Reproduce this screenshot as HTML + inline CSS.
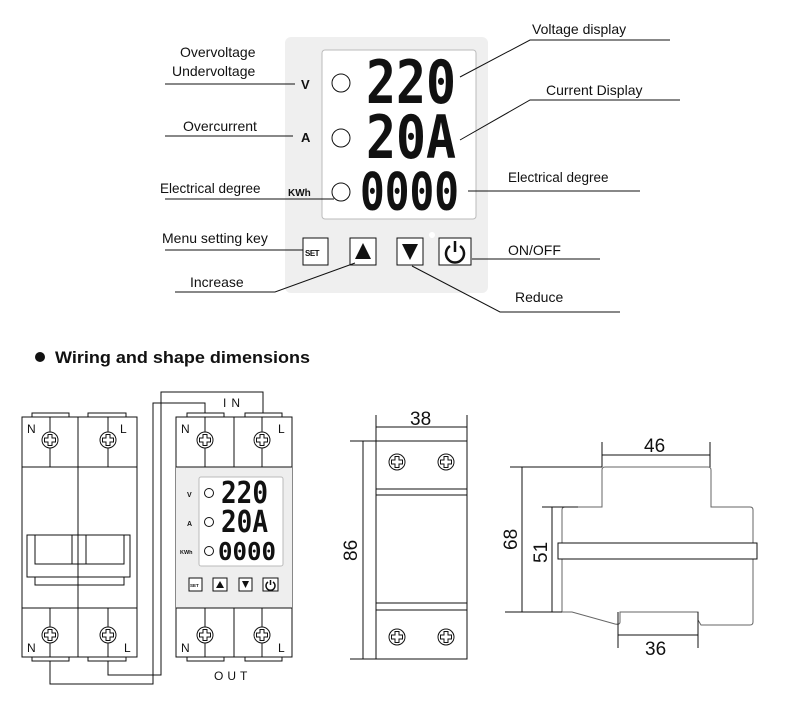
<!DOCTYPE html>
<html><head><meta charset="utf-8"><style>
html,body{margin:0;padding:0;background:#fff}
svg{display:block}
text{font-family:"Liberation Sans",sans-serif;fill:#111}
.seg{font-family:"DejaVu Sans Mono","Liberation Mono",monospace;font-weight:bold}
</style></head><body>
<svg width="785" height="707" viewBox="0 0 785 707" xmlns="http://www.w3.org/2000/svg">
<defs>
<g id="sc"><circle r="8"/><path d="M-2,-5.5 H2 V-2 H5.5 V2 H2 V5.5 H-2 V2 H-5.5 V-2 H-2 Z"/></g>
</defs>
<g stroke="#111" stroke-width="1" fill="none">
<!-- top panel -->
<rect x="285" y="37" width="203" height="256" rx="6" fill="#efefef" stroke="none"/>
<rect x="322" y="50" width="154" height="169" rx="3" fill="#fff" stroke="#bbb"/>
<circle cx="341" cy="83" r="9"/>
<circle cx="341" cy="138" r="9"/>
<circle cx="341" cy="192" r="9"/>
<rect x="303" y="238" width="25" height="27" fill="#fff"/>
<rect x="350" y="238" width="26" height="27" fill="#fff"/>
<rect x="397" y="238" width="26" height="27" fill="#fff"/>
<rect x="439" y="238" width="32" height="27" fill="#fff"/>
<polygon points="363,243 371,259 355,259" fill="#111" stroke="none"/>
<polygon points="402,244 418,244 410,260" fill="#111" stroke="none"/>
<path d="M450,246 A9,9 0 1 0 460,246" stroke-width="2.5"/>
<line x1="455" y1="241" x2="455" y2="252" stroke-width="2.5"/>
<circle cx="432" cy="235" r="3" fill="#fff" stroke="none"/>
<!-- left leaders -->
<line x1="165" y1="84" x2="295" y2="84"/>
<line x1="165" y1="136" x2="293" y2="136"/>
<line x1="165" y1="199" x2="334" y2="199"/>
<line x1="165" y1="250" x2="303" y2="250"/>
<polyline points="175,292 275,292 355,263"/>
<!-- right leaders -->
<polyline points="460,77 530,40 670,40"/>
<polyline points="460,140 530,100 680,100"/>
<line x1="468" y1="191" x2="640" y2="191"/>
<line x1="472" y1="259" x2="600" y2="259"/>
<polyline points="412,266 500,312 620,312"/>
</g>
<g font-size="14">
<text x="180" y="57">Overvoltage</text>
<text x="172" y="76">Undervoltage</text>
<text x="183" y="131">Overcurrent</text>
<text x="160" y="193" font-size="13.5">Electrical degree</text>
<text x="162" y="243">Menu setting key</text>
<text x="190" y="287">Increase</text>
<text x="532" y="34">Voltage display</text>
<text x="546" y="95">Current Display</text>
<text x="508" y="182" font-size="13.5">Electrical degree</text>
<text x="508" y="255">ON/OFF</text>
<text x="515" y="302">Reduce</text>
</g>
<text x="301" y="89" font-size="13" font-weight="bold">V</text>
<text x="301" y="142" font-size="13" font-weight="bold">A</text>
<text x="288" y="196" font-size="10" font-weight="bold">KWh</text>
<text x="305" y="256" font-size="8" font-weight="bold" style="letter-spacing:-0.5px">SET</text>
<text class="seg" x="366" y="103" font-size="60" textLength="90" lengthAdjust="spacingAndGlyphs">220</text>
<text class="seg" x="366" y="158" font-size="60" textLength="90" lengthAdjust="spacingAndGlyphs">20A</text>
<text class="seg" x="360" y="210" font-size="52" textLength="99" lengthAdjust="spacingAndGlyphs">0000</text>
<!-- heading -->
<circle cx="40" cy="357" r="5" fill="#111"/>
<text x="55" y="363" font-size="17" font-weight="bold" textLength="255" lengthAdjust="spacingAndGlyphs">Wiring and shape dimensions</text>

<g stroke="#111" stroke-width="1" fill="none">
<!-- breaker -->
<rect x="22" y="417" width="115" height="240" fill="#fff"/>
<rect x="32" y="413" width="37" height="4"/><rect x="88" y="413" width="38" height="4"/>
<rect x="32" y="657" width="37" height="4"/><rect x="88" y="657" width="38" height="4"/>
<line x1="22" y1="467" x2="137" y2="467"/><line x1="22" y1="608" x2="137" y2="608"/>
<line x1="78" y1="417" x2="78" y2="657"/>
<line x1="50" y1="417" x2="50" y2="467"/><line x1="108" y1="417" x2="108" y2="467"/>
<line x1="50" y1="608" x2="50" y2="657"/><line x1="108" y1="608" x2="108" y2="657"/>
<rect x="27" y="535" width="103" height="42"/>
<rect x="35" y="535" width="37" height="29"/><rect x="86" y="535" width="38" height="29"/>
<line x1="35" y1="564" x2="124" y2="564"/>
<rect x="35" y="577" width="89" height="8"/>
<!-- device -->
<rect x="176" y="417" width="116" height="240" fill="#fff"/>
<rect x="176" y="467" width="116" height="141" fill="#eee" stroke="none"/>
<line x1="176" y1="467" x2="292" y2="467"/><line x1="176" y1="608" x2="292" y2="608"/>
<rect x="187" y="413" width="37" height="4"/><rect x="245" y="413" width="37" height="4"/>
<rect x="187" y="657" width="37" height="4"/><rect x="245" y="657" width="37" height="4"/>
<line x1="234" y1="417" x2="234" y2="467"/><line x1="234" y1="608" x2="234" y2="657"/>
<line x1="205" y1="417" x2="205" y2="467"/><line x1="262" y1="417" x2="262" y2="467"/>
<line x1="205" y1="608" x2="205" y2="657"/><line x1="262" y1="608" x2="262" y2="657"/>
<rect x="199" y="477" width="84" height="89" rx="2" fill="#fff" stroke="#bbb"/>
<circle cx="209" cy="493" r="4.5"/><circle cx="209" cy="522" r="4.5"/><circle cx="209" cy="551" r="4.5"/>
<rect x="189" y="578" width="13" height="13" fill="#fff"/>
<rect x="213" y="578" width="14" height="13" fill="#fff"/>
<rect x="239" y="578" width="13" height="13" fill="#fff"/>
<rect x="263" y="578" width="15" height="13" fill="#fff"/>
<polygon points="220,581 224,588 216,588" fill="#111" stroke="none"/>
<polygon points="242,581 249,581 245.5,588" fill="#111" stroke="none"/>
<path d="M268,582 A4.5,4.5 0 1 0 273,582" stroke-width="1.5"/>
<line x1="270.5" y1="580" x2="270.5" y2="585" stroke-width="1.5"/>
<!-- wires -->
<polyline points="263,413 263,392 161,392 161,675 108,675 108,661"/>
<polyline points="205,413 205,403 153,403 153,684 50,684 50,661"/>
<!-- front view -->
<rect x="376" y="441" width="91" height="218" fill="#fff"/>
<line x1="376" y1="489" x2="467" y2="489"/><line x1="376" y1="495" x2="467" y2="495"/>
<line x1="376" y1="603" x2="467" y2="603"/><line x1="376" y1="610" x2="467" y2="610"/>
<line x1="376" y1="415" x2="376" y2="441"/><line x1="467" y1="415" x2="467" y2="441"/>
<line x1="376" y1="427" x2="467" y2="427"/>
<line x1="350" y1="441" x2="376" y2="441"/><line x1="350" y1="659" x2="376" y2="659"/>
<line x1="363" y1="441" x2="363" y2="659"/>
<!-- side view -->
<path d="M602,507 L602,470 Q602,467 605,467 L708,467 Q711,467 711,470 L711,507 L750,507 Q753,507 753,510 L753,622 Q753,625 750,625 L701,625 L698,620 L698,612 L620,612 L620,622 Q620,625 615,624 L572,612 L562,612 L562,510 Q562,507 565,507 Z" stroke="#666"/>
<rect x="558" y="543" width="199" height="16" fill="#fff" stroke="#111"/>
<line x1="602" y1="442" x2="602" y2="467"/><line x1="710" y1="442" x2="710" y2="467"/>
<line x1="602" y1="455" x2="710" y2="455"/>
<line x1="510" y1="467" x2="602" y2="467"/><line x1="505" y1="612" x2="562" y2="612"/>
<line x1="522" y1="467" x2="522" y2="612"/>
<line x1="542" y1="507" x2="578" y2="507"/><line x1="552" y1="507" x2="552" y2="612"/>
<line x1="618" y1="612" x2="618" y2="648"/><line x1="698" y1="612" x2="698" y2="648"/>
<line x1="618" y1="635" x2="698" y2="635"/>
</g>
<!-- screws -->
<g stroke="#111" stroke-width="1" fill="#fff">
<use href="#sc" x="50" y="440"/><use href="#sc" x="108" y="440"/>
<use href="#sc" x="50" y="635"/><use href="#sc" x="108" y="635"/>
<use href="#sc" x="205" y="440"/><use href="#sc" x="262" y="440"/>
<use href="#sc" x="205" y="635"/><use href="#sc" x="262" y="635"/>
<use href="#sc" x="397" y="462"/><use href="#sc" x="446" y="462"/>
<use href="#sc" x="397" y="637"/><use href="#sc" x="446" y="637"/>
</g>
<g font-size="12">
<text x="27" y="433">N</text><text x="120" y="433">L</text>
<text x="27" y="652">N</text><text x="124" y="652">L</text>
<text x="181" y="433">N</text><text x="278" y="433">L</text>
<text x="181" y="652">N</text><text x="278" y="652">L</text>
<text x="223" y="407" letter-spacing="5">IN</text>
<text x="214" y="680" letter-spacing="4">OUT</text>
</g>
<text x="187" y="497" font-size="7" font-weight="bold">V</text>
<text x="187" y="526" font-size="7" font-weight="bold">A</text>
<text x="180" y="554" font-size="5.5" font-weight="bold">KWh</text>
<text x="190" y="587" font-size="4.5" font-weight="bold">SET</text>
<text class="seg" x="221" y="503" font-size="30" textLength="47" lengthAdjust="spacingAndGlyphs">220</text>
<text class="seg" x="221" y="532" font-size="30" textLength="47" lengthAdjust="spacingAndGlyphs">20A</text>
<text class="seg" x="218" y="560" font-size="25" textLength="58" lengthAdjust="spacingAndGlyphs">0000</text>
<g font-size="19">
<text x="410" y="425">38</text>
<text x="644" y="452">46</text>
<text x="645" y="655">36</text>
<text transform="translate(357,561) rotate(-90)">86</text>
<text transform="translate(517,550) rotate(-90)">68</text>
<text transform="translate(547,563) rotate(-90)">51</text>
</g>
</svg>
</body></html>
